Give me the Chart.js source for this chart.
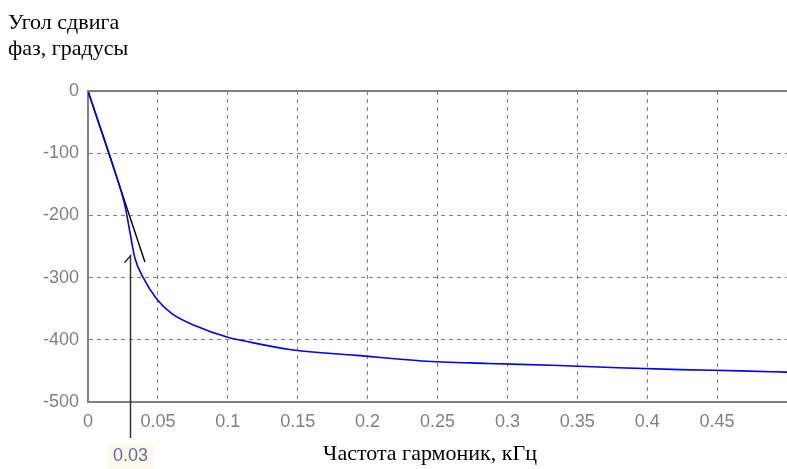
<!DOCTYPE html>
<html>
<head>
<meta charset="utf-8">
<script src="https://cdn.jsdelivr.net/npm/chart.js@4"></script>
<style>
  html, body { margin: 0; padding: 0; background: #fff; }
  canvas { display: block; }
</style>
</head>
<body>
<canvas id="phase" width="787" height="469"></canvas>
<script>
// phase response of the harmonics
const freq = [0, 0.0216, 0.0264, 0.030, 0.0336, 0.0395, 0.049, 0.06, 0.0764, 0.1, 0.112,
  0.1455, 0.192, 0.239, 0.286, 0.332, 0.379, 0.424, 0.467, 0.5];
const phase = [0, -146, -184, -227, -269, -300, -334, -358, -377, -396, -402,
  -416, -425, -434, -438, -441, -445, -448, -450, -452];

// straight line from the origin
const tangentFreq = [0, 0.0407];
const tangentPhase = [0, -275];

const xTicks = [0, 0.05, 0.1, 0.15, 0.2, 0.25, 0.3, 0.35, 0.4, 0.45];
const yTicks = [0, -100, -200, -300, -400, -500];

const markFreq = 0.03;
const markLabel = '0.03';
const markTop = -265;

const yTitle = ['Угол сдвига', 'фаз, градусы'];
const xTitle = 'Частота гармоник, кГц';

const grey = '#808080';
const tickFont = { family: 'Liberation Sans', size: 18 };

const toPoints = (xs, ys) => xs.map((x, i) => ({ x, y: ys[i] }));

// titles, the top border and the 0.03 marker
const extras = {
  id: 'extras',
  afterDraw(chart) {
    const { ctx, chartArea, scales } = chart;
    ctx.save();

    ctx.strokeStyle = grey;
    ctx.lineWidth = 2;
    ctx.beginPath();
    ctx.moveTo(chartArea.left, chartArea.top);
    ctx.lineTo(chartArea.right, chartArea.top);
    ctx.stroke();

    ctx.fillStyle = '#000';
    ctx.font = '22px "Liberation Serif"';
    ctx.textAlign = 'left';
    ctx.textBaseline = 'alphabetic';
    ctx.fillText(yTitle[0], 8, 29);
    ctx.fillText(yTitle[1], 8, 55);
    ctx.textAlign = 'center';
    ctx.fillText(xTitle, 430, 460);

    const mx = Math.round(scales.x.getPixelForValue(markFreq)) + 0.5;
    const my = scales.y.getPixelForValue(markTop);
    ctx.strokeStyle = '#333';
    ctx.lineWidth = 1.5;
    ctx.beginPath();
    ctx.moveTo(mx, 438);
    ctx.lineTo(mx, my);
    ctx.lineTo(mx - 6, my + 7);
    ctx.stroke();

    ctx.font = '18px "Liberation Sans"';
    const w = ctx.measureText(markLabel).width;
    ctx.fillStyle = '#fcf9ee';
    ctx.fillRect(mx - w / 2 - 6, 443, w + 12, 26);
    ctx.fillStyle = '#6a6aa0';
    ctx.textBaseline = 'middle';
    ctx.fillText(markLabel, mx, 456);
    ctx.restore();
  },
};

new Chart(document.getElementById('phase'), {
  type: 'scatter',
  data: {
    datasets: [
      {
        data: toPoints(freq, phase),
        showLine: true,
        borderColor: '#0000ff',
        borderWidth: 1.6,
        pointRadius: 0,
        cubicInterpolationMode: 'monotone',
      },
      {
        data: toPoints(tangentFreq, tangentPhase),
        showLine: true,
        borderColor: '#000',
        borderWidth: 1.4,
        pointRadius: 0,
      },
    ],
  },
  options: {
    responsive: false,
    animation: false,
    devicePixelRatio: 1,
    layout: { padding: { top: 91, right: 0, left: 0, bottom: 0 } },
    plugins: { legend: { display: false }, tooltip: { enabled: false } },
    scales: {
      x: {
        type: 'linear',
        min: 0,
        max: 0.5,
        afterFit(scale) { scale.height = 67; },
        afterBuildTicks(scale) { scale.ticks = xTicks.map((value) => ({ value })); },
        ticks: {
          color: grey,
          font: tickFont,
          padding: 9,
          maxRotation: 0,
          callback: (v) => String(v),
        },
        grid: { color: grey, drawTicks: false },
        border: { color: grey, width: 2, dash: [4, 4] },
      },
      y: {
        type: 'linear',
        min: -500,
        max: 0,
        afterFit(scale) { scale.width = 88; },
        afterBuildTicks(scale) { scale.ticks = yTicks.map((value) => ({ value })); },
        ticks: { color: grey, font: tickFont, padding: 9 },
        grid: { color: grey, drawTicks: false },
        border: { color: grey, width: 2, dash: [4, 4] },
      },
    },
  },
  plugins: [extras],
});
</script>
</body>
</html>
